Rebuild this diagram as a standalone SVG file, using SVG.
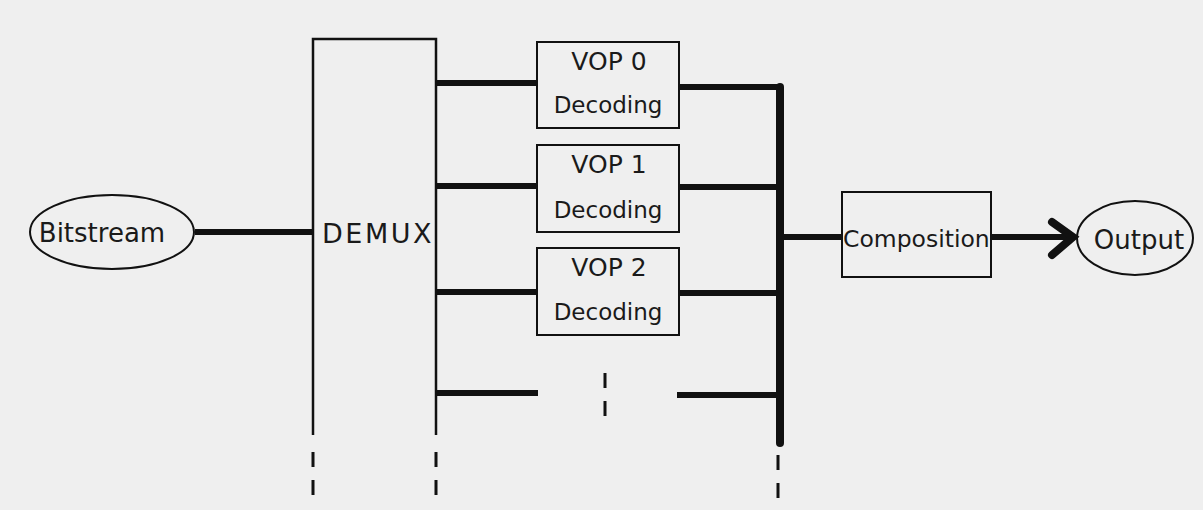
<svg xmlns="http://www.w3.org/2000/svg" width="1203" height="510" viewBox="0 0 1203 510">
<style>
.box{fill:none;stroke:#111;stroke-width:2}
.thin{stroke:#111;stroke-width:2.5;fill:none}
.thick{stroke:#111;stroke-width:6;fill:none;stroke-linecap:butt}
.bus{stroke:#111;stroke-width:8;fill:none;stroke-linecap:round}
.dash{stroke:#111;stroke-width:3;fill:none;stroke-dasharray:15 13}
text{font-family:"DejaVu Sans","Liberation Sans",sans-serif;fill:#1a1a1a;font-size:23px}
.vop{font-size:25px}
.big{font-size:26px}
.dmx{font-size:27px;letter-spacing:2.5px}
.comp{font-size:23.5px}
</style>
<rect width="1203" height="510" fill="#efefef"/>
<g id="bitstream">
<ellipse cx="112" cy="232" rx="82" ry="37" class="box"/>
<text x="102" y="242" text-anchor="middle" class="big">Bitstream</text>
</g>
<g id="demux">
<path d="M313,435 V39 H436 V435" class="thin"/>
<text x="378" y="243" text-anchor="middle" class="dmx">DEMUX</text>
</g>
<g id="vop0">
<rect x="537" y="42" width="142" height="86" class="box"/>
<text x="609" y="70" text-anchor="middle" class="vop">VOP 0</text>
<text x="608" y="113" text-anchor="middle">Decoding</text>
</g>
<g id="vop1">
<rect x="537" y="145" width="142" height="87" class="box"/>
<text x="609" y="173" text-anchor="middle" class="vop">VOP 1</text>
<text x="608" y="218" text-anchor="middle">Decoding</text>
</g>
<g id="vop2">
<rect x="537" y="248" width="142" height="87" class="box"/>
<text x="609" y="276" text-anchor="middle" class="vop">VOP 2</text>
<text x="608" y="320" text-anchor="middle">Decoding</text>
</g>
<g id="composition">
<rect x="842" y="192" width="149" height="85" class="box"/>
<text x="843" y="247" class="comp">Composition</text>
</g>
<g id="output">
<ellipse cx="1135" cy="238" rx="58" ry="37" class="box"/>
<text x="1139" y="249" text-anchor="middle" class="big">Output</text>
</g>
<g id="connectors">
<line x1="195" y1="232" x2="313" y2="232" class="thick"/>
<line x1="436" y1="83" x2="537" y2="83" class="thick"/>
<line x1="436" y1="186" x2="537" y2="186" class="thick"/>
<line x1="436" y1="292" x2="537" y2="292" class="thick"/>
<line x1="436" y1="393" x2="538" y2="393" class="thick" stroke-linecap="round"/>
<line x1="679" y1="87" x2="780" y2="87" class="thick"/>
<line x1="679" y1="187" x2="780" y2="187" class="thick"/>
<line x1="679" y1="293" x2="780" y2="293" class="thick"/>
<line x1="677" y1="395" x2="780" y2="395" class="thick" stroke-linecap="round"/>
<line x1="780" y1="87" x2="780" y2="443" class="bus"/>
<line x1="780" y1="237" x2="842" y2="237" class="thick"/>
<line x1="990" y1="237" x2="1073" y2="237" class="thick"/>
<path d="M1052,222 L1073,237 L1052,255" class="bus"/>
<line x1="313" y1="452" x2="313" y2="500" class="dash"/>
<line x1="436" y1="452" x2="436" y2="500" class="dash"/>
<line x1="778" y1="455" x2="778" y2="503" class="dash"/>
<line x1="605" y1="373" x2="605" y2="426" class="dash" stroke-dasharray="17 10"/>
</g>
</svg>
